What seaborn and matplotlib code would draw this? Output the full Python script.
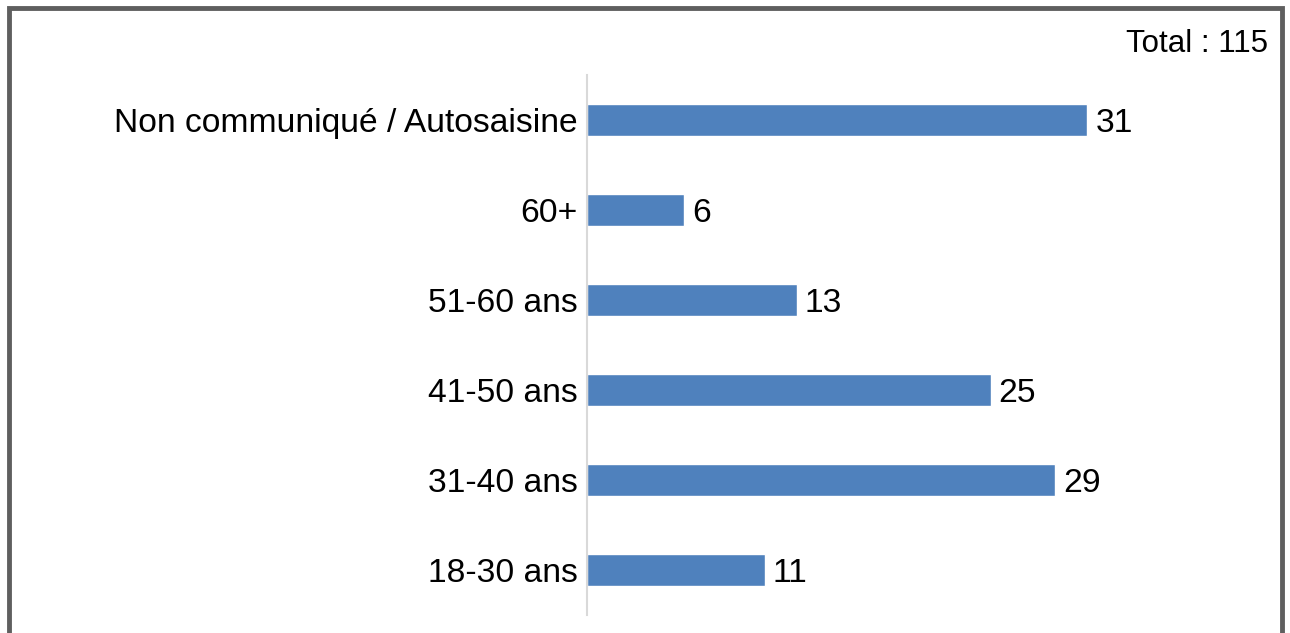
import matplotlib
matplotlib.use("Agg")
import matplotlib.pyplot as plt
from matplotlib.patches import Rectangle
import seaborn as sns
import pandas as pd

# Data (top to bottom)
categories = ["Non communiqué / Autosaisine", "60+", "51-60 ans", "41-50 ans", "31-40 ans", "18-30 ans"]
counts = [31, 6, 13, 25, 29, 11]
total_label = "Total : 115"

df = pd.DataFrame({"categorie": categories, "nombre": counts})

sns.set_theme(style="white")
plt.rcParams["font.family"] = ["Liberation Sans", "DejaVu Sans"]

fig = plt.figure(figsize=(12.9, 6.33), dpi=100)
ax = fig.add_axes([0.455, 0.0284, 0.438, 0.853])

sns.barplot(data=df, x="nombre", y="categorie", order=categories,
            color="#4F81BD", saturation=1, width=0.36, ax=ax)

ax.set_xlim(0, 35)
ax.set_ylim(len(categories) - 0.5, -0.5)
ax.set_xlabel("")
ax.set_ylabel("")
ax.set_xticks([])
ax.tick_params(axis="y", length=0, labelsize=24.2, pad=6.5, labelcolor="black")
for lab in ax.get_yticklabels():
    lab.set_verticalalignment("center_baseline")

for s in ["top", "right", "bottom"]:
    ax.spines[s].set_visible(False)
ax.spines["left"].set_color("#D9D9D9")
ax.spines["left"].set_linewidth(1.5)

for i, v in enumerate(counts):
    ax.text(v + 0.5, i, str(v), va="center_baseline", ha="left", fontsize=24.2, color="black")

fig.text(1268 / 1290, 1 - 40 / 633, total_label, ha="right", va="center_baseline",
         fontsize=22.5, color="black")

# outer grey frame
fig.patches.append(Rectangle((9 / 1290, -0.05), (1282 - 9) / 1290, 1 - 8 / 633 + 0.05,
                             transform=fig.transFigure, fill=False,
                             edgecolor="#5F5F5F", linewidth=3.5))

fig.savefig("out.png", dpi=100)
